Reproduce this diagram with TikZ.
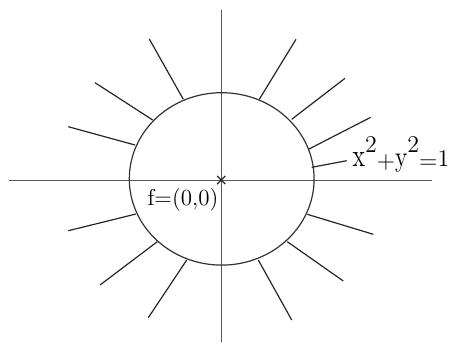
\documentclass[tikz,border=0pt]{standalone}
\usepackage{graphicx}
\usetikzlibrary{shapes.misc}

\begin{document}
\begin{tikzpicture}[x=0.5pt, y=-0.5pt, line width=0.6pt]
    \useasboundingbox (0,0) rectangle (453,354);

    % Axes
    \draw[black!65] (9,180.7) -- (432,180.7);
    \draw[black!65] (221.7,10) -- (221.7,342);

    % Unit circle
    \draw[black!80] (221.7,178.9) ellipse [x radius=46.2pt, y radius=43.1pt];

    % Rays leaving the circle
    \foreach \xa/\ya/\xb/\yb in {183.3/99.3/149.3/39, 152.7/120/95/82.7, 135/145/68.3/126.7,
        259.3/99.3/296/39.3, 291.7/119.3/345/78.3, 309/149/370.7/117.3,
        307.3/214.3/373.3/234.3, 287.3/241.7/343.3/281, 258.3/260/291.7/320,
        136/214/68.3/230.7, 157.3/241.7/100/285, 186.7/260/148.3/317.7} {
      \draw[black!85] (\xa,\ya) -- (\xb,\yb);
    }

    % Origin mark and labels
    \node[cross out, draw=black!85, minimum size=3.5pt, inner sep=0pt] (origin) at (221.2,180) {};
    \node[anchor=base west, inner sep=0pt, font=\fontsize{11.5}{14}\selectfont] (focus) at (147,205) {f=(0,0)};
    \node[anchor=base west, inner sep=0pt, font=\fontsize{12}{15}\selectfont] (circeq) at (352,166)
      {\scalebox{1}[1.35]{x}\raisebox{7pt}{2}\raisebox{-1.2pt}{+}\scalebox{1}[1.2]{y}\raisebox{7pt}{2}\raisebox{-1.2pt}{=}1};
    \coordinate (rim) at (311.7,167.3);
    \coordinate (tip) at (346.7,160.7);
    \draw[black!85] (rim) -- (tip);

\end{tikzpicture}
\end{document}
